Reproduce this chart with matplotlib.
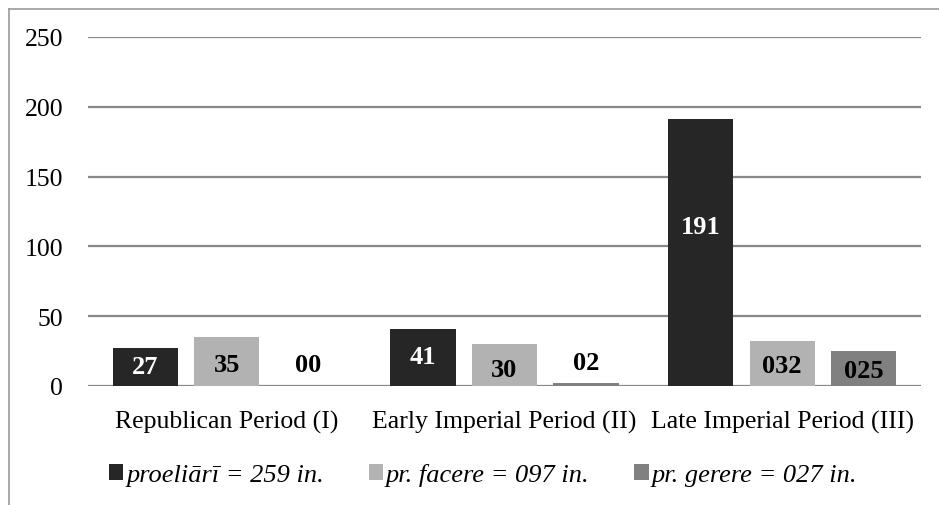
import matplotlib.pyplot as plt
from matplotlib.lines import Line2D
import numpy as np

plt.rcParams["font.family"] = ["Liberation Serif", "DejaVu Serif"]

periods = ["Republican Period (I)", "Early Imperial Period (II)", "Late Imperial Period (III)"]
series_names = ["proeliārī = 259 in.", "pr. facere = 097 in.", "pr. gerere = 027 in."]
proeliari = [27, 41, 191]
facere = [35, 30, 32]
gerere = [0, 2, 25]
# labels as printed on the chart
proeliari_lbl = ["27", "41", "191"]
facere_lbl = ["35", "30", "032"]
gerere_lbl = ["00", "02", "025"]

colors = ["#262626", "#b2b2b2", "#808080"]
label_colors = ["white", "black", "black"]
# where each value label sits (data units), one row per series
label_y = [[16, 23, 116], [17, 13.6, 16.5], [17, 18.6, 13]]

W, H = 939, 506
fig = plt.figure(figsize=(W / 100, H / 100), dpi=100)
ax = fig.add_axes([88 / W, (H - 387) / H, (921 - 88) / W, (387 - 38) / H])

x = np.arange(len(periods))
step = 0.2935
width = 0.235
all_vals = [proeliari, facere, gerere]
all_lbls = [proeliari_lbl, facere_lbl, gerere_lbl]
for i, (vals, lbls) in enumerate(zip(all_vals, all_lbls)):
    pos = x + (i - 1) * step
    ax.bar(pos, vals, width, color=colors[i], label=series_names[i], zorder=3)
    for p, ly, t in zip(pos, label_y[i], lbls):
        ax.text(p, ly, t, ha="center", va="center_baseline", fontsize=19,
                fontweight="bold", color=label_colors[i], zorder=4)

ax.set_xlim(-0.5, 2.5)
ax.set_ylim(0, 250)
ax.set_yticks([0, 50, 100, 150, 200, 250])
ax.set_xticks(x)
ax.set_xticklabels(periods)
ax.tick_params(axis="both", length=0, labelsize=18.5)
ax.tick_params(axis="y", pad=18)
ax.tick_params(axis="x", pad=17)
ax.yaxis.grid(True, color="#888888", linewidth=1.6, zorder=0)
ax.set_axisbelow(True)
for s in ax.spines.values():
    s.set_visible(False)

leg = fig.legend(loc="center", bbox_to_anchor=(483 / W, (H - 476) / H), ncol=3,
                 frameon=False, prop={"style": "italic", "size": 19},
                 handlelength=0.55, handleheight=0.55, handletextpad=0.1,
                 columnspacing=1.7)

# outer chart border (left and top visible)
fig.add_artist(Line2D([8.5 / W, 8.5 / W], [0, 1 - 9.5 / H], color="#999999", linewidth=1.2))
fig.add_artist(Line2D([8.5 / W, 1], [1 - 9.5 / H, 1 - 9.5 / H], color="#999999", linewidth=1.2))

fig.savefig("out.png", dpi=100)
